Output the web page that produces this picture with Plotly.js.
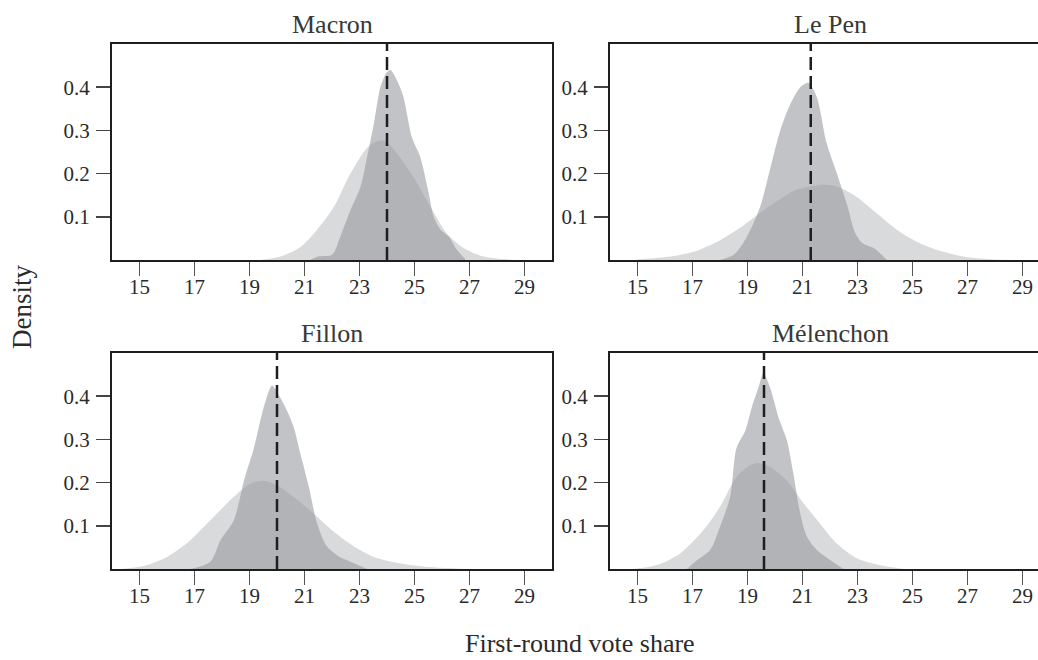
<!DOCTYPE html>
<html>
<head>
<meta charset="utf-8">
<script src="https://cdn.plot.ly/plotly-3.0.1.min.js"></script>
<style>html,body{margin:0;padding:0;background:#fff;}#chart{width:1038px;height:660px;}</style>
</head>
<body>
<div id="chart"></div>
<script>
// Panel names
const candidates = ["Macron", "Le Pen", "Fillon", "Mélenchon"];
// Observed (dashed line) values
const observed = [24.0, 21.3, 20.0, 19.6];
const xTicks = [15, 17, 19, 21, 23, 25, 27, 29];
const yTicks = [0.1, 0.2, 0.3, 0.4];

// Macron
const macronWideX = [19.4, 20.13, 20.85, 21.46, 22.07, 22.67, 23.28, 23.64, 23.95, 24.37, 24.98, 25.58, 26.19, 26.8, 27.5, 28.37, 28.85];
const macronWideY = [0, 0.008, 0.03, 0.07, 0.123, 0.2, 0.26, 0.275, 0.275, 0.246, 0.19, 0.123, 0.06, 0.027, 0.008, 0.0015, 0];
const macronNarrowX = [21.2, 21.5, 22.0, 22.3, 22.67, 23.04, 23.28, 23.52, 23.76, 24.0, 24.13, 24.37, 24.6, 24.9, 25.2, 25.5, 25.7, 25.95, 26.25, 26.55, 26.85];
const macronNarrowY = [0, 0.008, 0.012, 0.054, 0.115, 0.17, 0.24, 0.315, 0.40, 0.435, 0.44, 0.415, 0.377, 0.285, 0.24, 0.16, 0.10, 0.07, 0.054, 0.023, 0.002];

// Le Pen
const lepenWideX = [15.0, 16.2, 17.04, 18.0, 18.85, 19.58, 20.3, 20.67, 21.28, 21.76, 22.25, 22.97, 23.7, 24.43, 25.16, 25.9, 26.85, 27.82, 28.67];
const lepenWideY = [0.0015, 0.008, 0.019, 0.046, 0.08, 0.115, 0.146, 0.16, 0.17, 0.175, 0.17, 0.146, 0.108, 0.07, 0.042, 0.023, 0.008, 0.0015, 0];
const lepenNarrowX = [18.0, 18.5, 18.98, 19.46, 19.82, 20.19, 20.55, 20.92, 21.22, 21.52, 21.88, 22.25, 22.61, 22.92, 23.2, 23.6, 24.07];
const lepenNarrowY = [0, 0.012, 0.054, 0.123, 0.21, 0.30, 0.36, 0.40, 0.41, 0.377, 0.27, 0.2, 0.13, 0.062, 0.038, 0.027, 0];

// Fillon
const fillonWideX = [14.3, 15.16, 16.0, 16.73, 17.58, 18.43, 19.04, 19.52, 20.0, 20.6, 21.34, 22.07, 22.8, 23.52, 24.5, 25.7, 26.9];
const fillonWideY = [0, 0.007, 0.028, 0.06, 0.113, 0.167, 0.198, 0.204, 0.194, 0.167, 0.128, 0.086, 0.052, 0.028, 0.013, 0.004, 0];
const fillonNarrowX = [16.85, 17.58, 17.95, 18.43, 18.8, 19.16, 19.52, 19.82, 20.0, 20.3, 20.6, 20.85, 21.16, 21.46, 21.82, 22.3, 22.67, 23.28];
const fillonNarrowY = [0, 0.017, 0.067, 0.113, 0.205, 0.28, 0.375, 0.425, 0.41, 0.375, 0.33, 0.267, 0.19, 0.105, 0.052, 0.027, 0.017, 0];

// Mélenchon
const melenchonWideX = [14.85, 15.7, 16.55, 17.4, 18.0, 18.6, 19.1, 19.4, 19.82, 20.43, 21.04, 21.64, 22.25, 22.97, 23.8, 24.67];
const melenchonWideY = [0, 0.009, 0.036, 0.09, 0.144, 0.213, 0.24, 0.246, 0.236, 0.205, 0.152, 0.105, 0.059, 0.025, 0.009, 0];
const melenchonNarrowX = [16.8, 17.16, 17.64, 18.0, 18.37, 18.6, 18.92, 19.16, 19.4, 19.58, 19.82, 20.13, 20.43, 20.67, 20.92, 21.16, 21.52, 22.0, 22.5];
const melenchonNarrowY = [0, 0.02, 0.044, 0.098, 0.167, 0.28, 0.32, 0.375, 0.42, 0.453, 0.42, 0.35, 0.298, 0.22, 0.128, 0.075, 0.044, 0.021, 0];

const wide = [[macronWideX, macronWideY], [lepenWideX, lepenWideY], [fillonWideX, fillonWideY], [melenchonWideX, melenchonWideY]];
const narrow = [[macronNarrowX, macronNarrowY], [lepenNarrowX, lepenNarrowY], [fillonNarrowX, fillonNarrowY], [melenchonNarrowX, melenchonNarrowY]];

const FONT = "'Liberation Serif', 'Times New Roman', serif";
const axSuffix = ["", "2", "3", "4"];
const traces = [];
for (let i = 0; i < 4; i++) {
  const xa = "x" + axSuffix[i], ya = "y" + axSuffix[i];
  traces.push({x: wide[i][0], y: wide[i][1], xaxis: xa, yaxis: ya, type: "scatter", mode: "lines",
    line: {width: 0, shape: "spline", smoothing: 0.8}, fill: "tozeroy", fillcolor: "rgba(150,152,156,0.36)", hoverinfo: "skip", showlegend: false});
  traces.push({x: narrow[i][0], y: narrow[i][1], xaxis: xa, yaxis: ya, type: "scatter", mode: "lines",
    line: {width: 0, shape: "spline", smoothing: 0.8}, fill: "tozeroy", fillcolor: "rgba(150,152,156,0.58)", hoverinfo: "skip", showlegend: false});
}

const W = 926, H = 525;
const leftDom = [0, 440 / W];
const rightDom = [498 / W, 1];
const topDom = [309 / H, 1];
const botDom = [0, 216 / H];
const rightMax = 14 + 428 / 27.5;

function xAxis(dom, anchor, max) {
  return {domain: dom, anchor: anchor, range: [14, max], tickvals: xTicks, ticktext: xTicks.map(String),
    showgrid: false, zeroline: false, showline: true, mirror: true, linecolor: "#1e1e1e", linewidth: 2,
    ticks: "outside", ticklen: 14, tickwidth: 1.5, tickcolor: "#555", ticklabelstandoff: -7,
    tickfont: {family: FONT, size: 21, color: "#2a2a2a"}, fixedrange: true};
}
function yAxis(dom, anchor, mirror) {
  return {domain: dom, anchor: anchor, range: [0, 0.5], tickvals: yTicks, ticktext: yTicks.map(String),
    showgrid: false, zeroline: false, showline: true, mirror: mirror, linecolor: "#1e1e1e", linewidth: 2,
    ticks: "outside", ticklen: 14, tickwidth: 1.5, tickcolor: "#444", ticklabelstandoff: 2,
    tickfont: {family: FONT, size: 21, color: "#2a2a2a"}, fixedrange: true};
}

const shapes = [];
for (let i = 0; i < 4; i++) {
  shapes.push({type: "line", xref: "x" + axSuffix[i], yref: "y" + axSuffix[i] + " domain",
    x0: observed[i], x1: observed[i], y0: 0, y1: 1,
    line: {color: "#1e1e1e", width: 2.5, dash: "13px,6px"}});
}

const titleCenters = [[220 / W, 1], [718 / W, 1], [220 / W, 216 / H], [718 / W, 216 / H]];
const annotations = candidates.map((c, i) => ({
  text: c, xref: "paper", yref: "paper", x: titleCenters[i][0], y: titleCenters[i][1],
  xanchor: "center", yanchor: "bottom", yshift: 3, showarrow: false,
  font: {family: FONT, size: 26, color: "#383838"}
}));
annotations.push({text: "Density", xref: "paper", yref: "paper", x: (22 - 112) / W, y: (569 - 307) / H,
  xanchor: "center", yanchor: "middle", textangle: -90, showarrow: false, font: {family: FONT, size: 27, color: "#2a2a2a"}});
annotations.push({text: "First-round vote share", xref: "paper", yref: "paper", x: (580 - 112) / W, y: (569 - 643) / H,
  xanchor: "center", yanchor: "middle", showarrow: false, font: {family: FONT, size: 26, color: "#2a2a2a"}});

const layout = {
  width: 1038, height: 660,
  margin: {l: 112, r: 0, t: 44, b: 91},
  paper_bgcolor: "#fff", plot_bgcolor: "#fff",
  showlegend: false,
  xaxis: xAxis(leftDom, "y", 30), yaxis: yAxis(topDom, "x", true),
  xaxis2: xAxis(rightDom, "y2", rightMax), yaxis2: yAxis(topDom, "x2", false),
  xaxis3: xAxis(leftDom, "y3", 30), yaxis3: yAxis(botDom, "x3", true),
  xaxis4: xAxis(rightDom, "y4", rightMax), yaxis4: yAxis(botDom, "x4", false),
  shapes: shapes, annotations: annotations
};

Plotly.newPlot("chart", traces, layout, {displayModeBar: false, staticPlot: true});
</script>
</body>
</html>
